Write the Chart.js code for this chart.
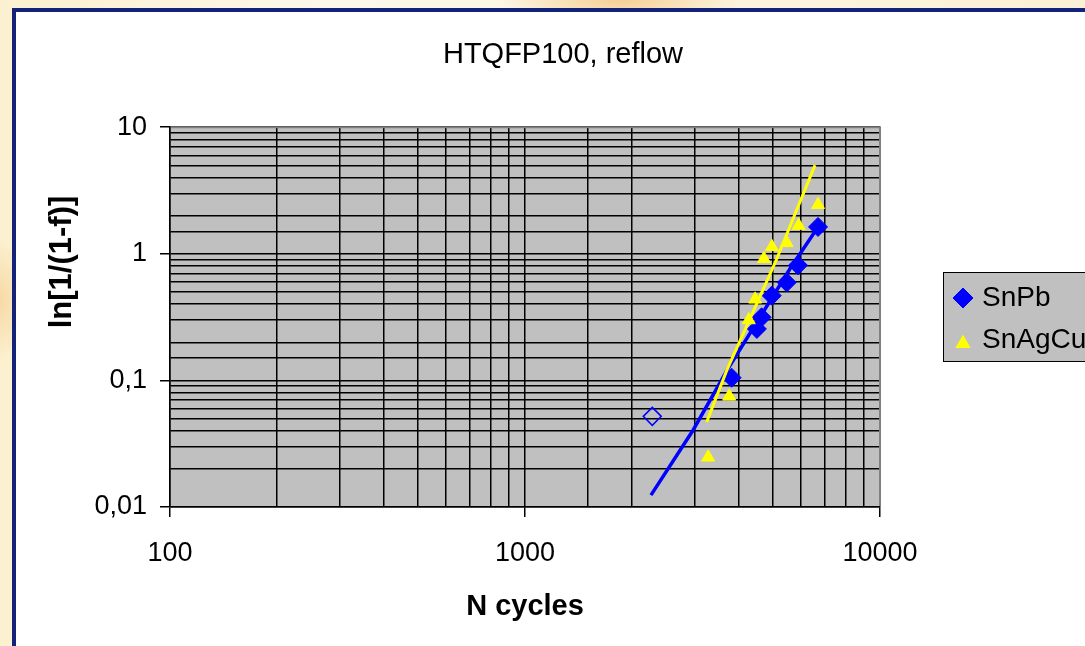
<!DOCTYPE html>
<html>
<head>
<meta charset="utf-8">
<title>HTQFP100, reflow</title>
<script src="https://cdn.jsdelivr.net/npm/chart.js@4.4.1/dist/chart.umd.min.js"></script>
<style>
  html, body { margin: 0; padding: 0; }
  body {
    position: relative;
    width: 1085px;
    height: 646px;
    overflow: hidden;
    background:
      radial-gradient(ellipse 120px 30px at 620px 0px, #f6cf94 0%, rgba(246,207,148,0) 100%),
      radial-gradient(ellipse 30px 60px at 0px 300px, #f7d9a6 0%, rgba(247,217,166,0) 100%),
      linear-gradient(90deg, #fbf0cf 0%, #fdf8ea 30%, #fbf1d6 100%);
  }
  .frame {
    position: absolute;
    left: 12px;
    top: 8px;
    width: 1120px;
    height: 700px;
    background: #fff;
    border: 4px solid #14237a;
  }
  #myChart { position: absolute; left: 16px; top: 12px; }
</style>
</head>
<body>
<div class="frame"></div>
<canvas id="myChart" width="1094" height="634"></canvas>
<script>
const chartTitle = 'HTQFP100, reflow';
const xTitle = 'N cycles';
const yTitle = 'ln[1/(1-f)]';

const xTickLabels = ['100', '1000', '10000'];
const yTickLabels = ['0,01', '0,1', '1', '10'];

// measured failures
const snPbCycles = [3820, 4500, 4640, 4955, 5460, 5875, 6690];
const snPbValues = [0.105, 0.255, 0.315, 0.467, 0.594, 0.812, 1.63];
const snAgCuCycles = [3280, 3760, 4270, 4450, 4710, 4960, 5460, 5900, 6690];
const snAgCuValues = [0.0247, 0.0748, 0.30, 0.437, 0.913, 1.135, 1.22, 1.67, 2.44];

// SnPb point left out of the fit
const excludedCycles = [2283];
const excludedValues = [0.052];

// fitted lines
const snPbFitCycles = [2264, 2974, 3707, 5578, 6690];
const snPbFitValues = [0.0124, 0.0404, 0.120, 0.762, 1.63];
const snAgCuFitCycles = [3250, 3701, 5093, 6560];
const snAgCuFitValues = [0.047, 0.120, 0.881, 5.02];

const FONT = "'Liberation Sans', Arial, Helvetica, sans-serif";
const BLUE = '#0000ff';
const YELLOW = '#ffff00';

const toPoints = (xs, ys) => xs.map((x, i) => ({ x: x, y: ys[i] }));
const decade = v => Math.log10(v);
const isDecade = v => Math.abs(decade(v) - Math.round(decade(v))) < 1e-6;

// grey plot area with a grey frame on top and right
const plotArea = {
    id: 'plotArea',
    beforeDraw(chart) {
        const { ctx, chartArea: { left, top, width, height } } = chart;
        ctx.save();
        ctx.fillStyle = '#c0c0c0';
        ctx.fillRect(left, top, width, height);
        ctx.restore();
    },
    beforeDatasetsDraw(chart) {
        const { ctx, chartArea: { left, top, right, bottom } } = chart;
        ctx.save();
        ctx.strokeStyle = '#808080';
        ctx.lineWidth = 2;
        ctx.beginPath();
        ctx.moveTo(left + 1, top);
        ctx.lineTo(right, top);
        ctx.lineTo(right, bottom - 1);
        ctx.stroke();
        ctx.restore();
    }
};

// vertical axis title, sitting a bit above the middle of the plot
const yAxisTitle = {
    id: 'yAxisTitle',
    afterDraw(chart, args, opts) {
        const { ctx } = chart;
        ctx.save();
        ctx.translate(opts.x, opts.y);
        ctx.rotate(-Math.PI / 2);
        ctx.font = 'bold ' + opts.size + 'px ' + FONT;
        ctx.fillStyle = '#000';
        ctx.textAlign = 'center';
        ctx.textBaseline = 'middle';
        ctx.fillText(opts.text, 0, 0);
        ctx.restore();
    }
};

// boxed legend to the right of the plot
const boxLegend = {
    id: 'boxLegend',
    afterDraw(chart, args, opts) {
        const { ctx } = chart;
        const { left, top, width, height } = opts.box;
        ctx.save();
        ctx.fillStyle = '#c0c0c0';
        ctx.fillRect(left, top, width, height);
        ctx.strokeStyle = '#000';
        ctx.lineWidth = 1;
        ctx.strokeRect(left + 0.5, top + 0.5, width, height);
        ctx.font = opts.fontSize + 'px ' + FONT;
        ctx.textBaseline = 'middle';
        ctx.textAlign = 'left';
        opts.items.forEach((item, i) => {
            const ds = chart.data.datasets[item.dataset];
            const y = top + opts.firstRow + i * opts.rowGap;
            ctx.fillStyle = ds.backgroundColor;
            ctx.strokeStyle = ds.borderColor;
            ctx.lineWidth = 1;
            Chart.helpers.drawPoint(ctx, { pointStyle: ds.pointStyle, radius: item.radius, rotation: 0, borderWidth: 1 },
                left + opts.markerX, y + item.dy);
            ctx.fillStyle = '#000';
            ctx.fillText(ds.label, left + opts.textX, y);
        });
        ctx.restore();
    }
};

const ctx = document.querySelector('#myChart');

const myChart = new Chart(ctx, {
    type: 'scatter',
    data: {
        datasets: [{
            label: 'SnAgCu fit',
            data: toPoints(snAgCuFitCycles, snAgCuFitValues),
            showLine: true,
            borderColor: YELLOW,
            backgroundColor: YELLOW,
            borderWidth: 3,
            pointRadius: 0
        },
        {
            label: 'SnAgCu',
            data: toPoints(snAgCuCycles, snAgCuValues),
            pointStyle: 'triangle',
            pointRadius: 7.5,
            borderWidth: 1,
            borderColor: YELLOW,
            backgroundColor: YELLOW
        },
        {
            label: 'SnPb fit',
            data: toPoints(snPbFitCycles, snPbFitValues),
            showLine: true,
            borderColor: BLUE,
            backgroundColor: BLUE,
            borderWidth: 3.5,
            pointRadius: 0
        },
        {
            label: 'SnPb',
            data: toPoints(snPbCycles, snPbValues),
            pointStyle: 'rectRot',
            pointRadius: 9.5,
            borderWidth: 1,
            borderColor: BLUE,
            backgroundColor: BLUE
        },
        {
            label: 'SnPb excluded',
            data: toPoints(excludedCycles, excludedValues),
            pointStyle: 'rectRot',
            pointRadius: 9,
            borderWidth: 1.5,
            borderColor: BLUE,
            backgroundColor: 'transparent'
        }]
    },
    options: {
        responsive: false,
        animation: false,
        devicePixelRatio: 1,
        layout: { padding: 0 },
        plugins: {
            legend: { display: false },
            tooltip: { enabled: false },
            title: {
                display: true,
                text: chartTitle,
                color: '#000',
                font: { family: FONT, size: 29, weight: 'normal' },
                padding: { top: 25.2, bottom: 55.2 }
            },
            yAxisTitle: { text: yTitle, size: 31, x: 46, y: 250 },
            boxLegend: {
                box: { left: 927, top: 260, width: 154, height: 89 },
                fontSize: 28,
                firstRow: 26,
                rowGap: 42,
                markerX: 20,
                textX: 39,
                items: [
                    { dataset: 3, radius: 10, dy: 0 },
                    { dataset: 1, radius: 8, dy: 3.5 }
                ]
            }
        },
        scales: {
            x: {
                type: 'logarithmic',
                min: 100,
                max: 10000,
                afterFit: scale => { scale.height = 139; },
                border: { color: '#000', width: 1.5 },
                grid: {
                    color: '#000',
                    lineWidth: 1.5,
                    tickLength: 10,
                    tickColor: c => (c.tick && isDecade(c.tick.value)) ? '#000' : 'rgba(0,0,0,0)'
                },
                ticks: {
                    autoSkip: false,
                    maxRotation: 0,
                    padding: 20,
                    color: '#000',
                    font: { family: FONT, size: 27 },
                    callback: v => isDecade(v) ? xTickLabels[Math.round(decade(v)) - 2] : ''
                },
                title: {
                    display: true,
                    text: xTitle,
                    color: '#000',
                    font: { family: FONT, size: 29, weight: 'bold' },
                    padding: { top: 0, bottom: 22 }
                }
            },
            y: {
                type: 'logarithmic',
                min: 0.01,
                max: 10,
                afterFit: scale => { scale.width = 154; },
                border: { color: '#000', width: 1.5 },
                grid: {
                    color: '#000',
                    lineWidth: 1.5,
                    tickLength: 10,
                    tickColor: c => (c.tick && isDecade(c.tick.value)) ? '#000' : 'rgba(0,0,0,0)'
                },
                ticks: {
                    autoSkip: false,
                    padding: 13,
                    color: '#000',
                    font: { family: FONT, size: 27 },
                    callback: v => isDecade(v) ? yTickLabels[Math.round(decade(v)) + 2] : ''
                }
            },
            // empty strip on the right that holds the legend box
            legendSpace: {
                type: 'linear',
                position: 'right',
                display: true,
                afterFit: scale => { scale.width = 230; },
                grid: { display: false },
                border: { display: false },
                ticks: { display: false }
            }
        }
    },
    plugins: [plotArea, yAxisTitle, boxLegend]
});
</script>
</body>
</html>
